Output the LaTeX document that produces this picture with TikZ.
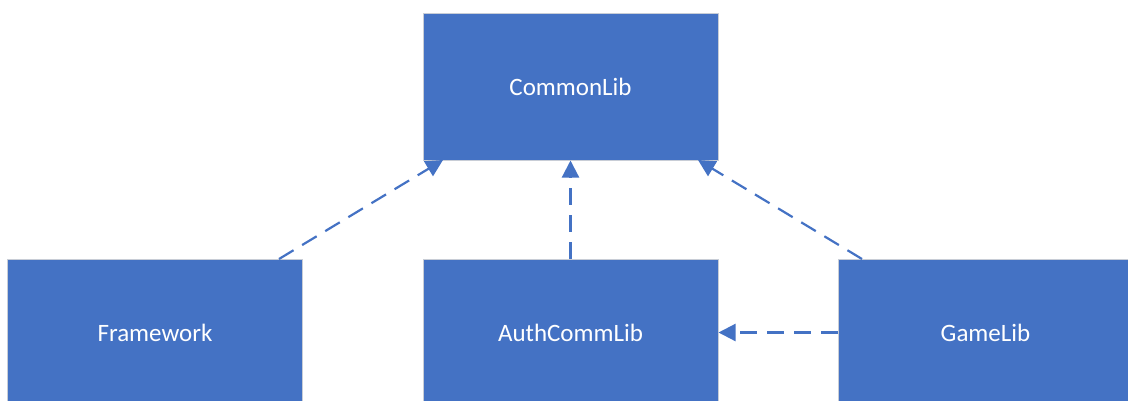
\documentclass[tikz,border=0pt]{standalone}
\usepackage{fontspec}
\setmainfont{Carlito}
\usetikzlibrary{arrows.meta}
\definecolor{boxblue}{HTML}{4472C4}
\definecolor{boxedge}{HTML}{C8CDD6}
\begin{document}
\begin{tikzpicture}[x=1pt,y=-1pt,
  libbox/.style={draw=boxedge,line width=1pt,fill=boxblue,minimum width=295pt,minimum height=147pt,inner sep=0pt,text=white,font=\fontsize{25}{30}\selectfont},
  dep/.style={draw=boxblue,line width=2.2pt,dash pattern=on 17pt off 10pt,-{Triangle[length=17pt,width=17pt]}}]
\useasboundingbox (0,0) rectangle (1128,400);
\begin{scope}
\clip (0,0) rectangle (1128,400);
\node[libbox] (common) at (570.5,86.5) {CommonLib};
\node[libbox] (frame) at (155,332.5) {Framework};
\node[libbox] (auth) at (570.5,332.5) {AuthCommLib};
\node[libbox] (game) at (985.5,332.5) {GameLib};
\coordinate (fs) at (279,259);
\coordinate (ft) at (443,160);
\coordinate (gs) at (862,259);
\coordinate (gt) at (698,160);
\draw[dep] (fs) -- (ft);
\draw[dep] (auth.north) -- (common.south);
\draw[dep] (gs) -- (gt);
\draw[dep] (game.west) -- (auth.east);
\end{scope}
\end{tikzpicture}
\end{document}
